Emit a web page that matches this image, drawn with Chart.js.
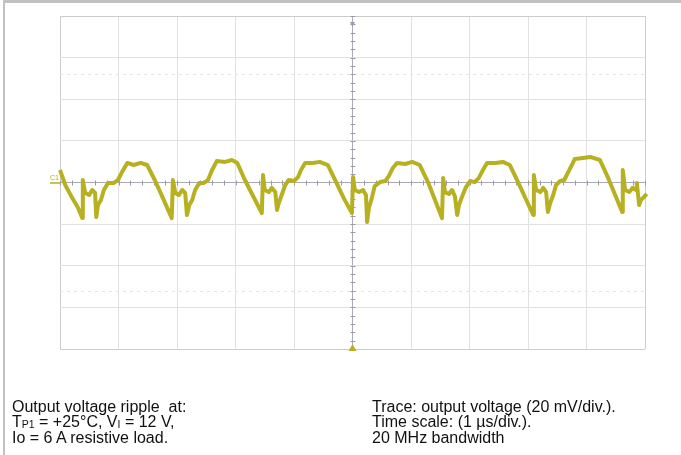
<!DOCTYPE html>
<html>
<head>
<meta charset="utf-8">
<script src="https://cdn.jsdelivr.net/npm/chart.js@4/dist/chart.umd.min.js"></script>
<style>
	html, body { margin: 0; padding: 0; background: #fff; }
	#page { position: relative; width: 681px; height: 455px; overflow: hidden; }
	#frame { position: absolute; left: 3px; top: 0; width: 678px; height: 455px; border-top: 3px solid #c2c2c2; border-left: 2px solid #c2c2c2; box-sizing: border-box; }
	#scope { position: absolute; left: 0; top: 0; }
	.note { position: absolute; top: 399px; font-family: "Liberation Sans", Arial, sans-serif; font-size: 16px; line-height: 15.4px; color: #111; white-space: pre; }
	.note span { font-size: 10.5px; line-height: 0; vertical-align: -1px; }
</style>
</head>
<body>
<div id="page">
	<div id="frame"></div>
	<canvas id="scope" width="681" height="455"></canvas>
	<div class="note" style="left:12px">Output voltage ripple  at:
T<span>P1</span> = +25°C, V<span>I</span> = 12 V,
Io = 6 A resistive load.</div>
	<div class="note" style="left:372px">Trace: output voltage (20 mV/div.).
Time scale: (1 µs/div.).
20 MHz bandwidth</div>
</div>
<script>
// time in µs (1 µs/div), ripple in mV (20 mV/div)
var timeUs = [
	0.00, 0.09, 0.21, 0.31,
	0.38, 0.39, 0.43, 0.50, 0.55, 0.60, 0.62, 0.65, 0.70, 0.75, 0.82, 0.92, 0.99, 1.06, 1.15, 1.26, 1.38, 1.49, 1.62, 1.76, 1.91,
	1.93, 1.97, 2.03, 2.09, 2.14, 2.17, 2.21, 2.26, 2.31, 2.38, 2.46, 2.53, 2.60, 2.68, 2.82, 2.94, 3.03, 3.16, 3.30, 3.45,
	3.47, 3.50, 3.57, 3.62, 3.68, 3.71, 3.74, 3.79, 3.85, 3.91, 4.00, 4.07, 4.12, 4.19, 4.32, 4.44, 4.58, 4.72, 4.85, 4.99,
	5.01, 5.04, 5.11, 5.18, 5.23, 5.25, 5.28, 5.33, 5.38, 5.47, 5.56, 5.62, 5.69, 5.76, 5.90, 6.02, 6.15, 6.29, 6.41, 6.53,
	6.55, 6.58, 6.65, 6.70, 6.75, 6.79, 6.82, 6.87, 6.94, 7.01, 7.09, 7.16, 7.23, 7.30, 7.44, 7.57, 7.69, 7.83, 7.97, 8.09,
	8.10, 8.14, 8.21, 8.26, 8.31, 8.34, 8.38, 8.43, 8.48, 8.55, 8.62, 8.68, 8.75, 8.80, 8.94, 9.06, 9.23, 9.37, 9.49, 9.61,
	9.62, 9.66, 9.73, 9.79, 9.85, 9.86, 9.90, 9.93, 9.98, 10.03, 10.12, 10.21
];
var rippleMv = [
	6.0, -1.2, -7.5, -12.3,
	-17.1, 1.2, -5.0, -6.0, -3.6, -5.0, -16.6, -10.8, -8.4, -3.6, -0.2, -0.2, 1.2, 5.0, 9.4, 8.4, 9.4, 8.4, 1.2, -7.5, -17.1,
	1.2, -5.0, -6.0, -3.6, -5.0, -15.6, -10.8, -8.4, -3.6, -0.2, -0.2, 1.2, 6.0, 10.3, 9.9, 10.8, 9.4, 1.2, -6.5, -14.7,
	3.6, -3.6, -4.6, -2.6, -4.6, -13.2, -9.9, -6.0, -1.2, 1.2, 0.7, 2.6, 6.0, 9.4, 9.4, 9.9, 8.4, 0.2, -7.5, -14.7,
	2.6, -3.6, -4.6, -3.6, -6.0, -19.0, -12.3, -7.5, -1.7, 0.2, 0.7, 3.1, 7.0, 9.4, 8.9, 9.9, 8.4, 0.2, -8.4, -17.1,
	2.2, -4.6, -5.5, -3.6, -6.5, -15.6, -10.8, -7.0, -2.2, 0.7, 0.2, 2.2, 6.0, 9.4, 9.4, 9.9, 8.4, 0.2, -8.4, -15.6,
	3.6, -3.6, -4.6, -2.6, -4.6, -14.2, -9.9, -6.0, -1.2, 0.7, 1.2, 4.6, 8.4, 11.3, 11.8, 12.3, 10.8, 2.2, -6.0, -14.2,
	6.0, -3.6, -4.6, -2.6, -3.6, -0.2, -10.8, -8.4, -7.0, -5.5, -5.0, -5.5
];
// screen: 10 x 8 divisions
var timeTicks = [0, 1, 2, 3, 4, 5, 6, 7, 8, 9, 10];
var voltTicks = [-80, -60, -40, -20, 0, 20, 40, 60, 80];
var markerLines = [-52, 52];

var Scope =
{
	trace: '#b7b020',

	init: function ()
	{
		var points = [];
		for (var i = 0; i < timeUs.length; i++)
		{
			points.push({x: timeUs[i], y: rippleMv[i]});
		}
		this.draw(points);
	},
	gridColor: function (value, lo, hi)
	{
		if (value == lo || value == hi) return '#cdcdcd';
		if (value == (lo + hi) / 2) return '#a9a9b8';
		return '#e1e1e1';
	},
	draw: function (points)
	{
		var that = this;
		var overlay =
		{
			id: 'overlay',
			beforeDatasetsDraw: function (chart)
			{
				var c = chart.ctx, xs = chart.scales.x, ys = chart.scales.y;
				var cx = xs.getPixelForValue(5), cy = ys.getPixelForValue(0);
				c.save();
				// faint dashed marker rows
				c.strokeStyle = '#e4e4e4';
				c.lineWidth = 1;
				c.setLineDash([3, 4]);
				markerLines.forEach(function (v)
				{
					var y = Math.round(ys.getPixelForValue(v)) + 0.5;
					c.beginPath();
					c.moveTo(xs.left, y);
					c.lineTo(xs.right, y);
					c.stroke();
				});
				c.setLineDash([]);
				// minor ticks on centre axes
				c.strokeStyle = '#9a9aa8';
				for (var t = 0; t <= 10; t += 0.2)
				{
					var x = Math.round(xs.getPixelForValue(t)) + 0.5;
					c.beginPath();
					c.moveTo(x, cy - 2);
					c.lineTo(x, cy + 3);
					c.stroke();
				}
				for (var v = -80; v <= 80; v += 4)
				{
					var y = Math.round(ys.getPixelForValue(v)) + 0.5;
					c.beginPath();
					c.moveTo(cx - 2, y);
					c.lineTo(cx + 3, y);
					c.stroke();
				}
				c.restore();
			},
			afterDatasetsDraw: function (chart)
			{
				var c = chart.ctx, xs = chart.scales.x, ys = chart.scales.y;
				var cx = xs.getPixelForValue(5), cy = ys.getPixelForValue(0);
				c.save();
				// channel marker
				c.fillStyle = that.trace;
				c.strokeStyle = that.trace;
				c.font = '7px "Liberation Sans", Arial, sans-serif';
				c.textBaseline = 'bottom';
				c.fillText('C1', xs.left - 10, cy - 1);
				c.lineWidth = 1.5;
				c.beginPath();
				c.moveTo(xs.left - 10, cy + 0.5);
				c.lineTo(xs.left, cy + 0.5);
				c.stroke();
				// trigger position
				c.beginPath();
				c.moveTo(cx - 4, ys.bottom + 2);
				c.lineTo(cx + 4, ys.bottom + 2);
				c.lineTo(cx, ys.bottom - 5);
				c.closePath();
				c.fill();
				c.fillStyle = '#9a9aa8';
				c.beginPath();
				c.moveTo(cx - 2.5, ys.top + 6);
				c.lineTo(cx + 2.5, ys.top + 6);
				c.lineTo(cx, ys.top + 11);
				c.closePath();
				c.fill();
				c.restore();
			}
		};
		var ctx = document.getElementById('scope');
		var myChart = new Chart(ctx, {
			type: 'line',
			data:
			{
				datasets: [
				{
					data: points,
					borderColor: that.trace,
					borderWidth: 4,
					borderJoinStyle: 'round',
					pointRadius: 0,
					tension: 0,
					clip: false
				}]
			},
			options:
			{
				responsive: false,
				animation: false,
				layout: {padding: {left: 60, right: 36, top: 16, bottom: 106}},
				plugins: {legend: {display: false}, tooltip: {enabled: false}},
				scales:
				{
					x:
					{
						type: 'linear', min: 0, max: 10,
						afterBuildTicks: function (axis) { axis.ticks = timeTicks.map(function (v) { return {value: v}; }); },
						ticks: {display: false},
						grid: {drawTicks: false, lineWidth: 1, color: function (c) { return that.gridColor(c.tick.value, 0, 10); }},
						border: {display: false}
					},
					y:
					{
						type: 'linear', min: -80, max: 80,
						afterBuildTicks: function (axis) { axis.ticks = voltTicks.map(function (v) { return {value: v}; }); },
						ticks: {display: false},
						grid: {drawTicks: false, lineWidth: 1, color: function (c) { return that.gridColor(c.tick.value, -80, 80); }},
						border: {display: false}
					}
				}
			},
			plugins: [overlay]
		});
	}
};
var ScopeShot = Object.create(Scope);
ScopeShot.init();
</script>
</body>
</html>
